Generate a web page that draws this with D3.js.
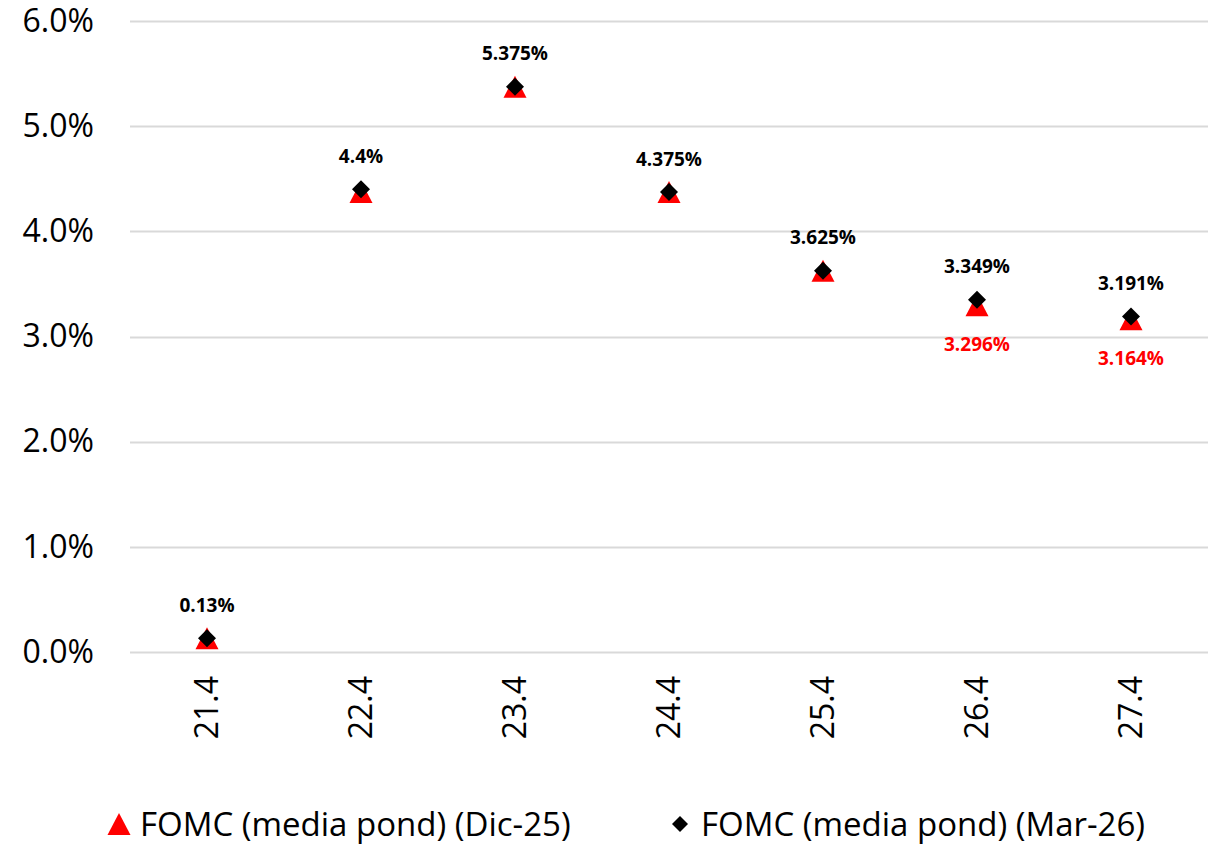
<!DOCTYPE html>
<html>
<head>
<meta charset="utf-8">
<script src="https://cdn.jsdelivr.net/npm/d3@7"></script>
<style>
  body { margin: 0; background: #fff; }
  text { font-family: "Open Sans", sans-serif; }
</style>
</head>
<body>
<script>
const categories = ['21.4', '22.4', '23.4', '24.4', '25.4', '26.4', '27.4']
const dic25 = [0.13, 4.375, 5.375, 4.375, 3.625, 3.296, 3.164]
const mar26 = [0.13, 4.4, 5.375, 4.375, 3.625, 3.349, 3.191]
const mar26Labels = ['0.13%', '4.4%', '5.375%', '4.375%', '3.625%', '3.349%', '3.191%']
const dic25Labels = [null, null, null, null, null, '3.296%', '3.164%']
const yTicks = [0, 1, 2, 3, 4, 5, 6]
const seriesNames = ['FOMC (media pond) (Dic-25)', 'FOMC (media pond) (Mar-26)']

function main(){
    var width = 1211;
    var height = 845;

    let svg = d3.select('body')
        .append('svg')
        .attr('width', width)
        .attr('height', height)

    let xScale = d3.scaleBand()
        .domain(categories)
        .range([130, 1208])

    let yScale = d3.scaleLinear()
        .domain([0, 6])
        .range([652, 21])

    // gridlines
    svg.append('g')
        .selectAll('line')
        .data(yTicks)
        .enter()
        .append('line')
        .attr('x1', 130)
        .attr('x2', 1208)
        .attr('y1', d => Math.round(yScale(d)) + 0.5)
        .attr('y2', d => Math.round(yScale(d)) + 0.5)
        .attr('stroke', '#d9d9d9')
        .attr('stroke-width', 2)

    let yAxis = svg.append('g')
        .attr('transform', 'translate(94,0)')
        .call(d3.axisLeft(yScale).tickValues(yTicks).tickSize(0).tickPadding(0)
            .tickFormat(d => d.toFixed(1) + '%'))
    yAxis.select('.domain').remove()
    yAxis.selectAll('text')
        .attr('font-size', '32px')
        .attr('fill', '#000')
        .attr('font-family', '"Open Sans", sans-serif')

    let xAxis = svg.append('g')
        .attr('transform', 'translate(0,652)')
        .call(d3.axisBottom(xScale).tickSize(0).tickPadding(0))
    xAxis.select('.domain').remove()
    xAxis.selectAll('text')
        .attr('font-size', '32px')
        .attr('fill', '#000')
        .attr('font-family', '"Open Sans", sans-serif')
        .attr('transform', 'rotate(-90)')
        .attr('text-anchor', 'end')
        .attr('x', -24)
        .attr('y', 0)
        .attr('dy', '0.35em')

    const tri = 'M0,-11L11.5,11L-11.5,11Z'
    const dia = 'M0,-9L9,0L0,9L-9,0Z'
    const cx = i => xScale(categories[i]) + xScale.bandwidth() / 2

    svg.append('g')
        .selectAll('path')
        .data(dic25)
        .enter()
        .append('path')
        .attr('d', tri)
        .attr('fill', '#ff0000')
        .attr('transform', (d, i) => `translate(${cx(i)},${yScale(d)})`)

    svg.append('g')
        .selectAll('path')
        .data(mar26)
        .enter()
        .append('path')
        .attr('d', dia)
        .attr('fill', '#000')
        .attr('transform', (d, i) => `translate(${cx(i)},${yScale(d)})`)

    svg.append('g')
        .selectAll('text')
        .data(mar26)
        .enter()
        .append('text')
        .attr('x', (d, i) => cx(i))
        .attr('y', d => yScale(d) - 33)
        .attr('dy', '0.35em')
        .attr('text-anchor', 'middle')
        .attr('font-size', '19px')
        .attr('font-weight', 'bold')
        .attr('fill', '#000')
        .text((d, i) => mar26Labels[i])

    const redLabels = dic25.map((v, i) => ({ v: v, i: i, label: dic25Labels[i] }))
        .filter(d => d.label !== null)
    svg.append('g')
        .selectAll('text')
        .data(redLabels)
        .enter()
        .append('text')
        .attr('x', d => cx(d.i))
        .attr('y', d => yScale(d.v) + 39)
        .attr('dy', '0.35em')
        .attr('text-anchor', 'middle')
        .attr('font-size', '19px')
        .attr('font-weight', 'bold')
        .attr('fill', '#ff0000')
        .text(d => d.label)

    // legend
    const legend = svg.append('g')
    const items = [
        { name: seriesNames[0], shape: tri, color: '#ff0000', x: 119 },
        { name: seriesNames[1], shape: 'M0,-8L8,0L0,8L-8,0Z', color: '#000', x: 680 }
    ]
    items.forEach(it => {
        legend.append('path')
            .attr('d', it.shape)
            .attr('fill', it.color)
            .attr('transform', `translate(${it.x},824)`)
        legend.append('text')
            .attr('x', it.x + 21)
            .attr('y', 824)
            .attr('dy', '0.35em')
            .attr('font-size', '33px')
            .attr('fill', '#000')
            .text(it.name)
    })
}

main()
</script>
</body>
</html>
